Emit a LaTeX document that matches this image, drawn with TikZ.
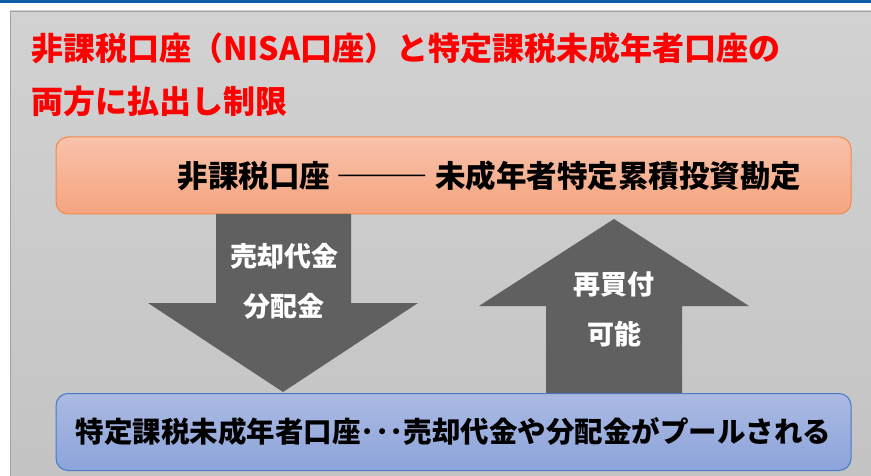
\documentclass[tikz,border=0pt]{standalone}
\usepackage{fontspec}
\newfontfamily\jpfont{Noto Sans CJK JP}
\definecolor{barblue}{HTML}{105EAA}
\definecolor{paneltop}{HTML}{D2D2D2}
\definecolor{panelbottom}{HTML}{C3C3C3}
\definecolor{panelline}{HTML}{A3A3A3}
\definecolor{orangetop}{HTML}{F8C2AA}
\definecolor{orangebottom}{HTML}{F5A47F}
\definecolor{orangeline}{HTML}{EE8A4E}
\definecolor{bluetop}{HTML}{ABBAE3}
\definecolor{bluebottom}{HTML}{8CA4DA}
\definecolor{blueline}{HTML}{4A78C8}
\definecolor{arrowgray}{HTML}{606060}
\tikzstyle{every node} = [font=\jpfont\bfseries, inner sep=0pt]
\tikzstyle{account} = [draw, rounded corners=12pt, line width=1pt, minimum width=795pt, minimum height=77pt]
\tikzstyle{flowarrow} = [fill=arrowgray]
\tikzstyle{arrowtext} = [text=white, font=\jpfont\bfseries\fontsize{27}{50}\selectfont, align=center]

\begin{document}
\begin{tikzpicture}[x=1pt, y=-1pt]
        \path[use as bounding box, fill=white] (0,0) rectangle (871,476);
        \clip (0,0) rectangle (871,476);
        % header and panel
        \fill[barblue] (0,0) rectangle (871,3);
        \draw[panelline, top color=paneltop, bottom color=panelbottom] (10,11) rectangle (890,490);
        % title
        \node[anchor=west, text=red, font=\jpfont\bfseries\fontsize{32}{40}\selectfont] (title1) at (31,48)
            {非課税口座（NISA口座）と特定課税未成年者口座の};
        \node[anchor=west, text=red, font=\jpfont\bfseries\fontsize{32}{40}\selectfont] (title2) at (31,101)
            {両方に払出し制限};
        % accounts
        \node[account, draw=orangeline, top color=orangetop, bottom color=orangebottom,
              font=\jpfont\bfseries\fontsize{30.5}{36}\selectfont] (nisa) at (453.5,175.5)
            {\hspace{72pt}非課税口座 ――― 未成年者特定累積投資勘定};
        \node[account, draw=blueline, top color=bluetop, bottom color=bluebottom,
              font=\jpfont\bfseries\fontsize{28.5}{34}\selectfont] (tokutei) at (453.5,432)
            {特定課税未成年者口座･･･売却代金や分配金がプールされる};
        % arrows
        \fill[flowarrow] (216,214) -- (351,214) -- (351,303) -- (418,303) -- (283,392)
            -- (148,303) -- (216,303) -- cycle;
        \fill[flowarrow] (546,393) -- (682,393) -- (682,306) -- (749,306) -- (614,219)
            -- (479,306) -- (546,306) -- cycle;
        \node[arrowtext] (payout) at (284,281) {売却代金\\分配金};
        \node[arrowtext] (rebuy) at (614,309) {再買付\\可能};
    \end{tikzpicture}
\end{document}
